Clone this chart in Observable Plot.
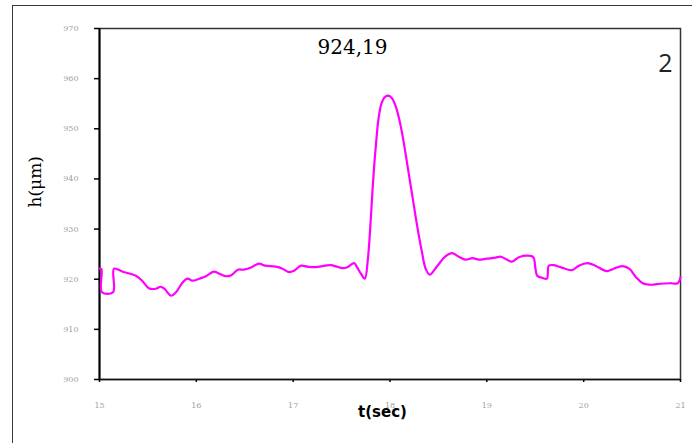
<!DOCTYPE html>
<html><head><meta charset="utf-8">
<script src="https://cdn.jsdelivr.net/npm/d3@7"></script>
<script src="https://cdn.jsdelivr.net/npm/@observablehq/plot@0.6"></script>
<style>
html,body{margin:0;padding:0;background:#fff;}
#wrap{position:relative;width:692px;height:443px;overflow:hidden;background:#fff;}
#wrap svg{position:absolute;left:0;top:0;}
#border{position:absolute;left:12px;top:5px;width:720px;height:480px;border-left:1.5px solid #3a3a3a;border-top:1.5px solid #3a3a3a;pointer-events:none;}
</style></head><body><div id="wrap"><div id="border"></div></div>
<script>
const times = [
  15.00, 15.02, 15.025, 15.14, 15.15, 15.24, 15.375, 15.44, 15.51, 15.58,
  15.63, 15.67, 15.74, 15.79, 15.86, 15.91, 15.96, 16.03, 16.10, 16.18,
  16.24, 16.30, 16.36, 16.43, 16.49, 16.56, 16.65, 16.71, 16.82, 16.89,
  16.96, 17.01, 17.08, 17.15, 17.23, 17.33, 17.39, 17.45, 17.51, 17.56,
  17.63, 17.66, 17.70, 17.74, 17.77, 17.80, 17.82, 17.84, 17.86, 17.88,
  17.91, 17.945, 17.98, 18.02, 18.06, 18.10, 18.14, 18.18, 18.23, 18.28,
  18.33, 18.37, 18.41, 18.49, 18.57, 18.64, 18.71, 18.78, 18.85, 18.92,
  19.00, 19.09, 19.14, 19.19, 19.26, 19.33, 19.42, 19.48, 19.50, 19.52,
  19.57, 19.62, 19.64, 19.69, 19.76, 19.88, 19.95, 20.04, 20.12, 20.24,
  20.31, 20.40, 20.47, 20.54, 20.61, 20.70, 20.79, 20.89, 20.97, 21.00
];
const heights = [
  922.1, 922.0, 917.4, 917.4, 922.1, 921.5, 920.7, 919.7, 918.2, 918.1,
  918.5, 918.1, 916.7, 917.4, 919.4, 920.1, 919.7, 920.1, 920.6, 921.5,
  921.1, 920.6, 920.8, 921.9, 921.9, 922.3, 923.1, 922.7, 922.5, 922.1,
  921.4, 921.7, 922.7, 922.5, 922.4, 922.7, 922.8, 922.5, 922.2, 922.4,
  923.2, 922.4, 921.1, 920.1, 923.7, 931.5, 938.0, 943.5, 948.0, 951.8,
  954.9, 956.3, 956.6, 956.1, 954.4, 951.5, 947.5, 942.7, 936.7, 930.7,
  925.4, 922.0, 920.9, 922.7, 924.5, 925.2, 924.5, 923.9, 924.2, 923.9,
  924.1, 924.3, 924.5, 924.1, 923.5, 924.4, 924.7, 924.4, 922.4, 920.7,
  920.3, 920.1, 922.7, 922.8, 922.4, 921.8, 922.7, 923.2, 922.7, 921.6,
  922.1, 922.6, 922.1, 920.4, 919.2, 918.9, 919.1, 919.2, 919.2, 920.4
];
const xTicks = [15, 16, 17, 18, 19, 20, 21];
const yTicks = [900, 910, 920, 930, 940, 950, 960, 970];
const peakLabel = ["924,19"];
const panelLabel = ["2"];
const xLabel = ["t(sec)"];
const yLabel = ["h(μm)"];

const data = times.map((t, i) => ({t, h: heights[i]}));

const chart = Plot.plot({
  width: 692, height: 443,
  marginLeft: 99, marginRight: 12, marginTop: 28, marginBottom: 64,
  style: {background: "transparent", overflow: "visible"},
  x: {domain: [15, 21]},
  y: {domain: [900, 970]},
  marks: [
    Plot.frame({stroke: "#333", strokeWidth: 1.5}),
    Plot.axisY(yTicks, {tickSize: 5, tickPadding: 16, fontSize: 8, fontFamily: "DejaVu Serif",
      color: "#a0a0a0", stroke: "#000", strokeWidth: 1.5, label: null, tickFormat: d => d}),
    Plot.axisX(xTicks, {tickSize: 3, tickPadding: 20, fontSize: 8, fontFamily: "DejaVu Serif",
      color: "#a0a0a0", stroke: "#000", strokeWidth: 1.5, label: null, tickFormat: d => d}),
    Plot.ruleX([15], {stroke: "#000", strokeWidth: 2}),
    Plot.ruleY([900], {stroke: "#111", strokeWidth: 1.5}),
    Plot.line(data, {x: "t", y: "h", stroke: "#ff00ff", strokeWidth: 2.2, curve: "catmull-rom"}),
    Plot.text(peakLabel, {frameAnchor: "top", text: d => d, dx: -37.5, dy: 11, fontSize: 20,
      fontFamily: "DejaVu Serif", fill: "#000"}),
    Plot.text(panelLabel, {frameAnchor: "top-right", text: d => d, textAnchor: "end", dx: -8, dy: 26,
      fontSize: 25, fontFamily: "Open Sans", fill: "#222"}),
    Plot.text(xLabel, {frameAnchor: "bottom", text: d => d, dx: -7.5, dy: 37, fontSize: 15,
      fontWeight: "bold", fontFamily: "DejaVu Sans", fill: "#000"}),
    Plot.text(yLabel, {frameAnchor: "left", text: d => d, rotate: -90, dx: -64, dy: 3.5, fontSize: 17,
      fontFamily: "DejaVu Serif", fill: "#000"})
  ]
});
const wrap = document.getElementById("wrap");
wrap.insertBefore(chart, wrap.firstChild);
</script>
</body></html>
